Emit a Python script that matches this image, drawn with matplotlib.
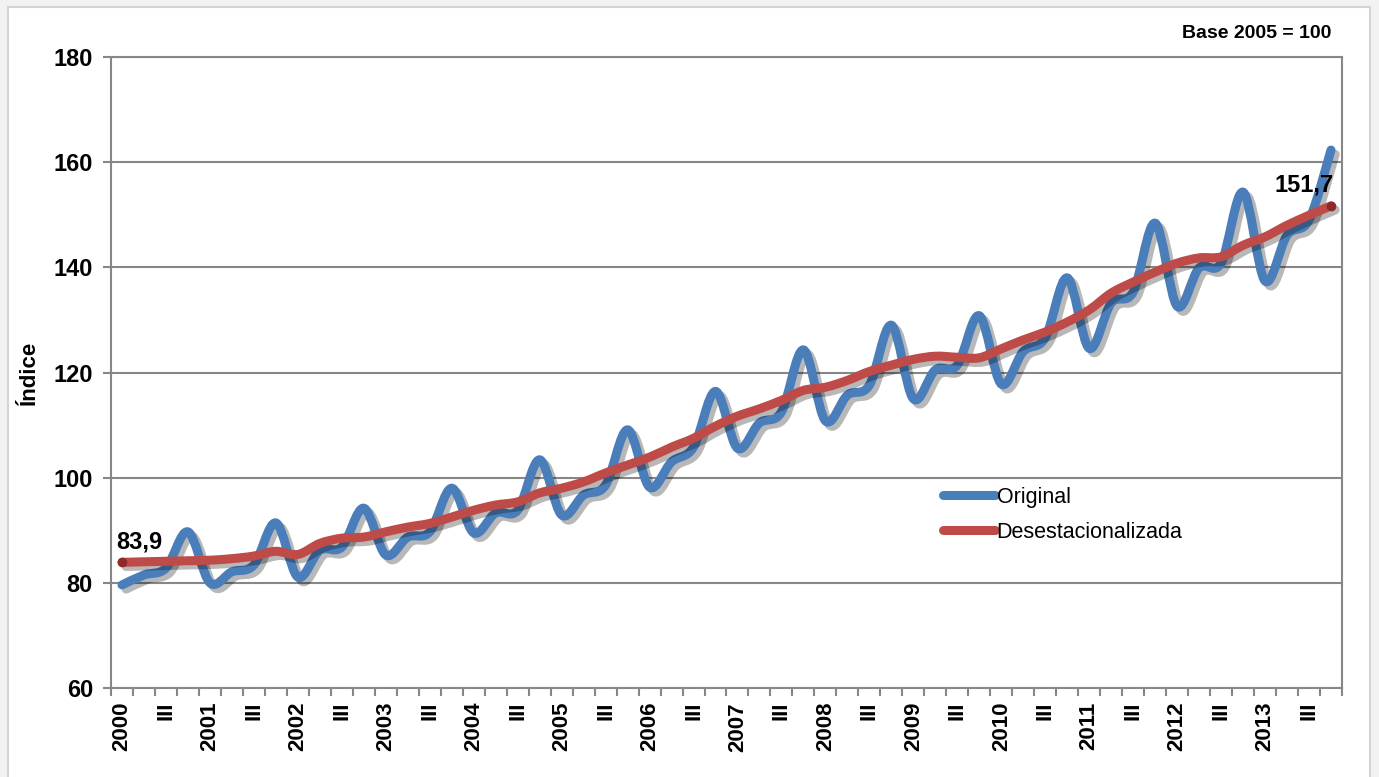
import numpy as np
import matplotlib
matplotlib.use("Agg")
import matplotlib.pyplot as plt
from matplotlib.path import Path
from matplotlib.patches import PathPatch, Rectangle
import matplotlib.patheffects as pe

plt.rcParams['font.family'] = ['Liberation Sans', 'DejaVu Sans']

# quarterly data 2000 Q1 .. 2013 Q4
years = list(range(2000, 2014))
original = [
    79.6, 81.5, 82.8, 89.7,
    80.0, 82.1, 83.4, 91.4,
    81.1, 86.2, 86.8, 94.2,
    85.3, 88.7, 89.7, 98.0,
    89.5, 93.3, 93.8, 103.4,
    92.9, 96.7, 98.6, 109.1,
    98.2, 103.0, 105.8, 116.4,
    105.6, 110.4, 112.5, 124.3,
    110.8, 115.7, 117.6, 129.0,
    115.0, 120.5, 121.4, 130.8,
    117.8, 124.0, 126.6, 138.0,
    124.6, 133.2, 135.3, 148.4,
    132.6, 139.9, 140.8, 154.3,
    137.4, 146.1, 149.0, 162.3,
]
desest = [
    83.9, 84.0, 84.1, 84.2,
    84.3, 84.6, 85.1, 86.0,
    85.4, 87.5, 88.5, 88.7,
    89.7, 90.6, 91.3, 92.5,
    93.8, 94.8, 95.4, 97.1,
    98.0, 99.2, 100.9, 102.4,
    103.9, 105.8, 107.5, 109.8,
    111.7, 113.1, 114.7, 116.6,
    117.2, 118.5, 120.2, 121.4,
    122.5, 123.1, 122.9, 122.8,
    124.5, 126.2, 127.7, 129.6,
    131.9, 135.1, 137.2, 139.1,
    140.8, 141.8, 142.0, 144.2,
    145.8, 148.0, 149.9, 151.7,
]
tick_labels = []
for y in years:
    tick_labels += [str(y), "III"]

blue = "#4A7EBB"
red = "#BE4B48"
grid_c = "#878787"


# smooth line like excel (catmull-rom bezier through the points)
def smooth_path(xs, ys):
    pts = np.column_stack([xs, ys])
    n = len(pts)
    verts = [pts[0]]
    codes = [Path.MOVETO]
    for i in range(n - 1):
        p0 = pts[i - 1] if i > 0 else pts[i]
        p1 = pts[i]
        p2 = pts[i + 1]
        p3 = pts[i + 2] if i + 2 < n else pts[i + 1]
        c1 = p1 + (p2 - p0) / 6.0
        c2 = p2 - (p3 - p1) / 6.0
        verts += [c1, c2, p2]
        codes += [Path.CURVE4] * 3
    return Path(verts, codes)


fig = plt.figure(figsize=(13.79, 7.77), dpi=100)
fig.patch.set_facecolor("#f2f2f2")
# white chart area with border
fig.add_artist(Rectangle((8 / 1379, -0.01), 1362 / 1379, 1 - 7 / 777 + 0.01,
                         transform=fig.transFigure, facecolor="white",
                         edgecolor="#d4d4d4", linewidth=1.5, zorder=0))

ax = fig.add_axes([111 / 1379, 1 - 688 / 777, 1231 / 1379, 631 / 777])
ax.set_facecolor("white")

xs = np.arange(len(original)) + 0.5

shadow = [pe.SimpleLineShadow(offset=(3, -3), shadow_color="black", alpha=0.28),
          pe.Normal()]

for vals, col in [(original, blue), (desest, red)]:
    patch = PathPatch(smooth_path(xs, vals), facecolor="none", edgecolor=col,
                      linewidth=6.5, capstyle="round", joinstyle="round", zorder=3)
    patch.set_path_effects(shadow)
    ax.add_patch(patch)

# end point markers + labels
ax.plot([xs[0], xs[-1]], [desest[0], desest[-1]], "o", color="#8E2A2A",
        markersize=6, zorder=4)
ax.annotate(f"{desest[0]:.1f}".replace(".", ","), (xs[0], desest[0]),
            xytext=(-4, 6), textcoords="offset points", fontsize=17,
            fontweight="bold", ha="left", va="bottom")
ax.annotate(f"{desest[-1]:.1f}".replace(".", ","), (xs[-1], desest[-1]),
            xytext=(2, 7), textcoords="offset points", fontsize=17,
            fontweight="bold", ha="right", va="bottom")

# legend handles
ax.plot([], [], color=blue, linewidth=6.5, solid_capstyle="round", label="Original")
ax.plot([], [], color=red, linewidth=6.5, solid_capstyle="round", label="Desestacionalizada")
leg = ax.legend(loc="upper left", bbox_to_anchor=(0.66, 0.35), frameon=False,
                fontsize=15.5, handlelength=2.4, handletextpad=0.1, labelspacing=0.65)

ax.set_xlim(0, len(original))
ax.set_ylim(60, 180)
ax.set_yticks(range(60, 181, 20))
ax.grid(axis="y", color=grid_c, linewidth=1.5)
ax.set_axisbelow(True)

ax.set_xticks(np.arange(0, len(original) + 1))
ax.set_xticklabels([])
ax.set_xticks(np.arange(0, len(original), 2) + 0.5, minor=True)
ax.set_xticklabels(tick_labels, minor=True, rotation=90, fontsize=16,
                   fontweight="bold")
ax.tick_params(axis="x", which="major", direction="out", length=6, color=grid_c, width=1.5)
ax.tick_params(axis="x", which="minor", length=0, pad=10)
ax.tick_params(axis="y", direction="out", length=6, color=grid_c, width=1.5,
               labelsize=17, pad=7)
for lbl in ax.get_yticklabels():
    lbl.set_fontweight("bold")

for s in ax.spines.values():
    s.set_color(grid_c)
    s.set_linewidth(1.5)

ax.set_ylabel("Índice", fontsize=16, fontweight="bold", labelpad=10)
fig.text(1331 / 1379, 1 - 33 / 777, "Base 2005 = 100", fontsize=14,
         fontweight="bold", ha="right", va="center")

fig.savefig("out.png", dpi=100, facecolor=fig.get_facecolor())
